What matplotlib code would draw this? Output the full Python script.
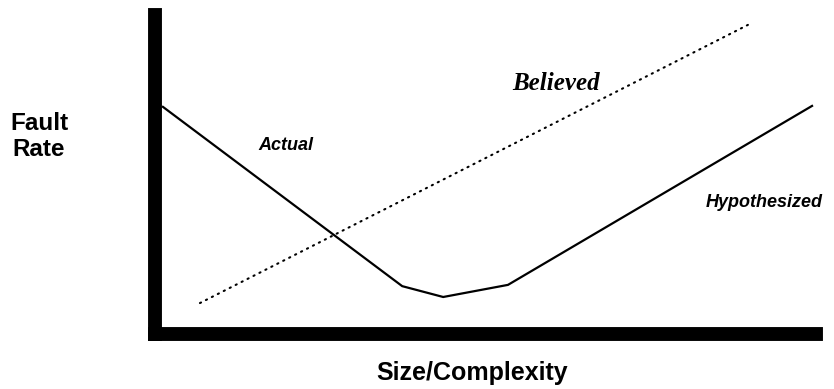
import matplotlib
matplotlib.use("Agg")
import matplotlib.pyplot as plt

# Data (arbitrary 0-100 scale)
actual_x = [1.2, 37.4, 43.6, 53.4, 99.4]
actual_y = [71.2, 15.0, 11.6, 15.4, 71.5]
believed_x = [6.8, 89.7]
believed_y = [9.7, 96.9]

W, H = 834, 389
fig = plt.figure(figsize=(W / 100, H / 100), dpi=100)

# axes box in pixel terms
L, R, B, T = 155, 816, 334, 15
ax = fig.add_axes([L / W, 1 - B / H, (R - L) / W, (B - T) / H])
ax.set_xlim(0, 100)
ax.set_ylim(0, 100)
ax.set_xticks([])
ax.set_yticks([])
for s in ("top", "right"):
    ax.spines[s].set_visible(False)
for s in ("left", "bottom"):
    ax.spines[s].set_linewidth(10)
    ax.spines[s].set_capstyle("projecting")
    ax.spines[s].set_color("black")

ax.plot(actual_x, actual_y, color="black", lw=1.6, solid_joinstyle="miter", clip_on=False)
ax.plot(believed_x, believed_y, color="black", lw=1.5, linestyle=(0, (0.6, 2.6)),
        dash_capstyle="round", clip_on=False)

sans = "Liberation Sans"
serif = "Liberation Serif"
ax.text(19.8, 57.7, "Actual", ha="center", va="baseline", fontsize=13,
        fontweight="bold", fontstyle="italic", family=sans)
ax.text(60.7, 76.5, "Believed", ha="center", va="baseline", fontsize=18,
        fontweight="bold", fontstyle="italic", family=serif)
ax.text(92.1, 39.8, "Hypothesized", ha="center", va="baseline", fontsize=13,
        fontweight="bold", fontstyle="italic", family=sans, clip_on=False)

fig.text(39 / W, 1 - 130 / H, "Fault", ha="center", va="baseline", fontsize=17.5,
         fontweight="bold", family=sans)
fig.text(39 / W, 1 - 156 / H, "Rate", ha="center", va="baseline", fontsize=17.5,
         fontweight="bold", family=sans)
fig.text(472 / W, 1 - 380 / H, "Size/Complexity", ha="center", va="baseline",
         fontsize=18, fontweight="bold", family=sans)

fig.savefig("out.png", dpi=100, facecolor="white")
